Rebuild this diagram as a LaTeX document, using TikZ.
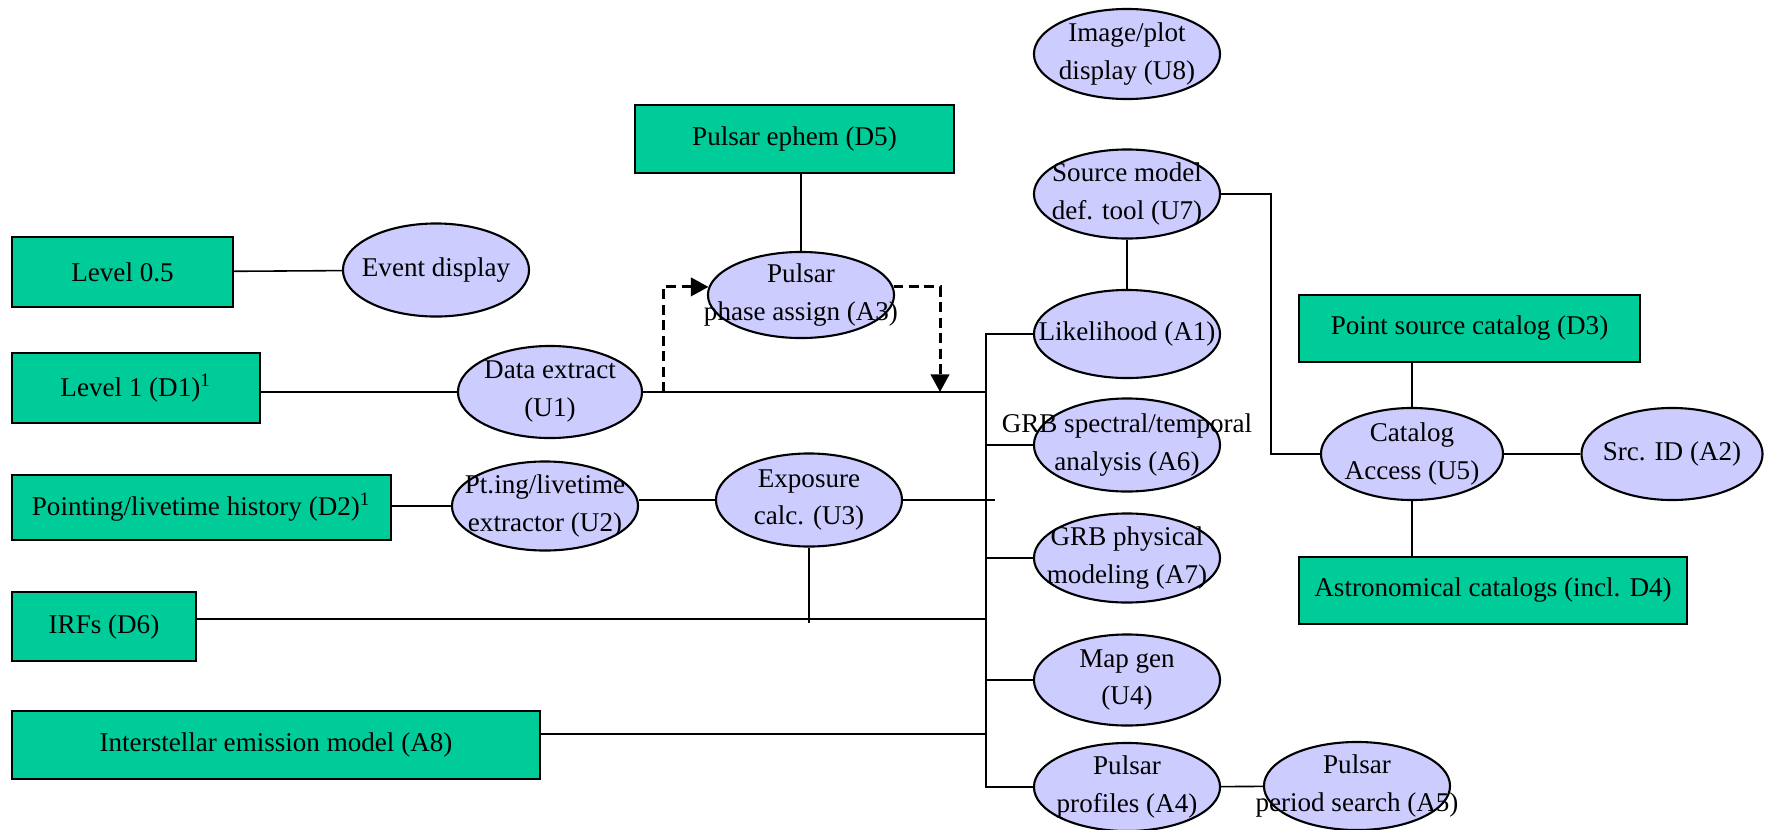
\documentclass[tikz,border=0pt]{standalone}
\usepackage{fontspec}
\setmainfont{Liberation Serif}
\usepackage{tikz}
\usetikzlibrary{
    arrows.meta,
    shapes.geometric,
    calc,
    positioning
}
\definecolor{datagreen}{RGB}{0,204,153}
\definecolor{toolblue}{RGB}{204,204,255}

\begin{document}
\begin{tikzpicture}[x=0.01cm, y=-0.01cm, line width=0.45pt,
        font=\fontsize{7.7}{10.8}\selectfont,
        data/.style={draw, fill=datagreen, inner sep=0pt},
        tool/.style={ellipse, draw, fill=toolblue, line width=0.6pt, inner sep=0pt,
            minimum width=1.86cm, minimum height=0.9cm, label={[txt]center:#1}},
        txt/.style={align=center, inner sep=0pt},
        flow/.style={line width=0.85pt, dash pattern=on 2.8pt off 1.6pt,
            -{Triangle[length=5pt, width=5.2pt]}}]
                        \useasboundingbox (0,0) rectangle (1784,830);
                        \node[data, minimum width=2.21cm, minimum height=0.70cm] (lv05) at (122.5,272) {Level 0.5};
                        \node[data, minimum width=2.48cm, minimum height=0.70cm] (d1) at (136,388) {Level 1 (D1)\textsuperscript{1}};
                        \node[data, minimum width=3.79cm, minimum height=0.65cm] (d2) at (201.5,507.5) {Pointing/livetime history (D2)\textsuperscript{1}};
                        \node[data, minimum width=1.84cm, minimum height=0.69cm] (d6) at (104,626.5) {IRFs (D6)};
                        \node[data, minimum width=5.28cm, minimum height=0.68cm] (a8) at (276,745) {Interstellar emission model (A8)};
                        \node[data, minimum width=3.19cm, minimum height=0.68cm] (d5) at (794.5,139) {Pulsar ephem (D5)};
                        \node[data, minimum width=3.41cm, minimum height=0.67cm] (d3) at (1469.5,328.5) {Point source catalog (D3)};
                        \node[data, minimum width=3.88cm, minimum height=0.67cm] (d4) at (1493,590.5) {Astronomical catalogs (incl. D4)};
                        \node[tool={Event display}, minimum height=0.93cm] (evd) at (436,270) {};
                        \node[tool={Data extract\\(U1)}, minimum width=1.84cm, minimum height=0.92cm] (u1) at (550,392) {};
                        \node[tool={Pt.ing/livetime\\extractor (U2)}, minimum height=0.89cm] (u2) at (545,506) {};
                        \node[tool={Pulsar\\phase assign (A3)}, minimum height=0.86cm] (a3) at (801,295) {};
                        \node[tool={Exposure\\calc. (U3)}, minimum height=0.93cm] (u3) at (809,500) {};
                        \node[tool={Image/plot\\display (U8)}] (u8) at (1127,54) {};
                        \node[tool={Source model\\def. tool (U7)}, minimum height=0.89cm] (u7) at (1127,194) {};
                        \node[tool={Likelihood (A1)}, minimum height=0.88cm] (a1) at (1127,334) {};
                        \node[tool={GRB spectral/temporal\\analysis (A6)}, minimum height=0.93cm] (a6) at (1127,445) {};
                        \node[tool={GRB physical\\modeling (A7)}, minimum height=0.89cm] (a7) at (1127,558) {};
                        \node[tool={Map gen\\(U4)}, minimum height=0.91cm] (u4) at (1127,680) {};
                        \node[tool={Pulsar\\profiles (A4)}, minimum height=0.88cm] (a4) at (1127,787) {};
                        \node[tool={Pulsar\\period search (A5)}, minimum height=0.88cm] (a5) at (1357,786) {};
                        \node[tool={Catalog\\Access (U5)}, minimum width=1.82cm, minimum height=0.92cm] (u5) at (1412,454) {};
                        \node[tool={Src. ID (A2)}, minimum width=1.81cm, minimum height=0.92cm] (a2) at (1672,454) {};
                        \coordinate (bustop) at (986,334);
                        \coordinate (busbot) at (986,787);
                        \coordinate (busu1) at (986,392);
                        \coordinate (busu3) at (995,500);
                        \coordinate (busd6) at (986,619);
                        \coordinate (busa8) at (986,734);
                        \coordinate (irfu3) at (809,623);
                        \coordinate (u7turn) at (1271,454);
                        \coordinate (a3in) at (663,392);
                        \coordinate (a3out) at (940,392);
                        \draw (lv05) -- (evd);
                        \draw (u1.west) -- (u1.west -| d1.east);
                        \draw (u2.west) -- (u2.west -| d2.east);
                        \draw (u3.west) -- (u3.west -| u2.east);
                        \draw (u3.east) -- (busu3);
                        \draw (u3.south) -- (irfu3);
                        \draw (busd6 -| d6.east) -- (busd6);
                        \draw (busa8 -| a8.east) -- (busa8);
                        \draw (u1.east) -- (busu1);
                        \draw (a1.west) -- (bustop) -- (busbot) -- (a4.west);
                        \foreach \n in {a6,a7,u4}
                            \draw (\n.west) -- (\n.west -| bustop);
                        \draw (a4) -- (a5);
                        \draw (a3.north) -- (a3.north |- d5.south);
                        \draw (u7) -- (a1);
                        \draw (u7.east) -| (u7turn) -- (u5.west);
                        \draw (u5.north) -- (u5.north |- d3.south);
                        \draw (u5.south) -- (u5.south |- d4.north);
                        \draw (u5) -- (a2);
                        \draw[flow] (a3in) |- (a3.175);
                        \draw[flow] (a3.5) -| (a3out);
\end{tikzpicture}
\end{document}
